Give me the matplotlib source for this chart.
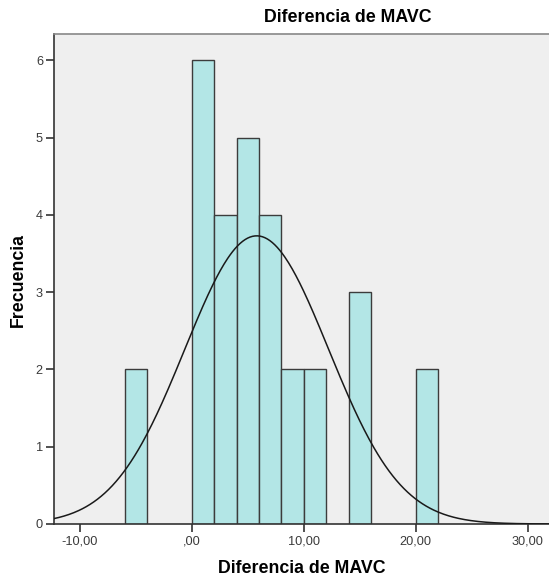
import numpy as np
import matplotlib; matplotlib.use("Agg")
import matplotlib.pyplot as plt
from matplotlib.ticker import FuncFormatter

plt.rcParams['font.family'] = ['Liberation Sans', 'DejaVu Sans']

# histogram bins (left edge, width 2) and counts
bin_left = [-6, 0, 2, 4, 6, 8, 10, 14, 20]
counts = [2, 6, 4, 5, 4, 2, 2, 3, 2]
bin_width = 2
# fitted normal curve
mean, sd = 5.8, 6.42
n_total = sum(counts)

def spss_fmt(v, pos):
    s = "%.2f" % v
    if s.startswith("0."): s = s[1:]
    return s.replace(".", ",")

fig = plt.figure(figsize=(5.49, 5.79), dpi=100)
ax = fig.add_axes([54/549, 55/579, 1 - 54/549, (524-34)/579])
ax.set_facecolor("#efefef")

ax.bar(bin_left, counts, width=bin_width, align="edge", color="#b3e6e6",
       edgecolor="#3c3c3c", lw=1.0, zorder=2)
xs = np.linspace(-12.3, 31.9, 400)
ys = n_total*bin_width/(sd*np.sqrt(2*np.pi))*np.exp(-0.5*((xs-mean)/sd)**2)
ax.plot(xs, ys, color="#1a1a1a", lw=1.1, zorder=3)

ax.set_xlim(-12.3, 31.9); ax.set_ylim(0, 6.34)
ax.set_xticks([-10, 0, 10, 20, 30]); ax.set_yticks(range(0, 7))
ax.xaxis.set_major_formatter(FuncFormatter(spss_fmt))
ax.tick_params(direction="out", length=5.5, width=1.2, colors="#333", labelsize=9.2, labelcolor="#3a3a3a", pad=2.5)
for s in ["left", "bottom"]:
    ax.spines[s].set_color("#333"); ax.spines[s].set_linewidth(1.2)
ax.spines["top"].set_color("#888"); ax.spines["top"].set_linewidth(1.2)
ax.spines["right"].set_visible(False)

ax.set_xlabel("Diferencia de MAVC", fontsize=12.8, fontweight="bold", labelpad=9)
fig.text(18/549, 1 - 280/579, "Frecuencia", rotation=90, ha="center", va="center",
         fontsize=12.8, fontweight="bold")
fig.text(348/549, 1 - 18/579, "Diferencia de MAVC", ha="center", va="center",
         fontsize=12.8, fontweight="bold")
fig.savefig("out.png", dpi=100)
